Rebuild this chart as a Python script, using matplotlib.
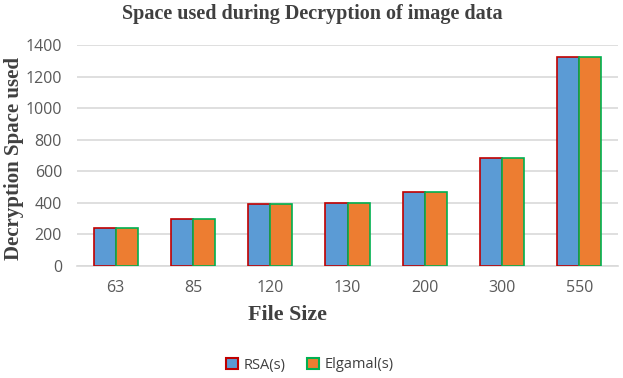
import matplotlib
matplotlib.use("Agg")
import matplotlib.pyplot as plt
import numpy as np
from matplotlib.patches import Patch

categories = ["63", "85", "120", "130", "200", "300", "550"]
rsa = [240, 300, 390, 400, 470, 685, 1325]
elgamal = [240, 300, 390, 400, 470, 685, 1325]

W, H = 623, 378
fig = plt.figure(figsize=(W/100, H/100), dpi=100)
ax = fig.add_axes([77/W, 1-266/H, (618-77)/W, (266-45)/H])

x = np.arange(len(categories))
w = 0.285
ax.bar(x - w/2, rsa, w, color="#5B9BD5", edgecolor="#C00000", linewidth=1.2, zorder=3)
ax.bar(x + w/2, elgamal, w, color="#ED7D31", edgecolor="#00B050", linewidth=1.2, zorder=3)

ax.set_xlim(-0.5, len(categories) - 0.5)
ax.set_ylim(0, 1400)
ax.set_yticks(range(0, 1401, 200))
ax.set_xticks(x)
ax.set_xticklabels(categories)
ax.grid(axis="y", color="#D9D9D9", linewidth=1.2, zorder=0)
for s in ["top", "right", "left"]:
    ax.spines[s].set_visible(False)
ax.spines["bottom"].set_color("#D9D9D9")
ax.spines["bottom"].set_linewidth(1.2)
ax.tick_params(length=0, labelsize=11.5, colors="#595959")
ax.tick_params(axis="y", pad=10.8)
ax.tick_params(axis="x", pad=10)
for lab in ax.get_xticklabels() + ax.get_yticklabels():
    lab.set_family("Open Sans")

fig.text(312/W, 1-14/H, "Space used during Decryption of image data", ha="center", va="center",
         family="Liberation Serif", weight="bold", fontsize=14.5, color="#404040")
fig.text(14/W, 1-159/H, "Decryption Space used", ha="center", va="center", rotation=90,
         family="Liberation Serif", weight="bold", fontsize=15, color="#404040")
fig.text(287/W, 1-315/H, "File Size", ha="center", va="center",
         family="Liberation Serif", weight="bold", fontsize=15.8, color="#404040")

handles = [Patch(facecolor="#5B9BD5", edgecolor="#C00000", linewidth=1.5, label="RSA(s)"),
           Patch(facecolor="#ED7D31", edgecolor="#00B050", linewidth=1.5, label="Elgamal(s)")]
leg = fig.legend(handles=handles, loc="center", bbox_to_anchor=(310/W, 1-365/H), ncol=2,
                 frameon=False, handlelength=0.8, handleheight=0.8, handletextpad=0.4,
                 columnspacing=1.5, prop={"family": "Open Sans", "size": 10.5})
for t in leg.get_texts():
    t.set_color("#404040")

fig.savefig("out.png", dpi=100)
